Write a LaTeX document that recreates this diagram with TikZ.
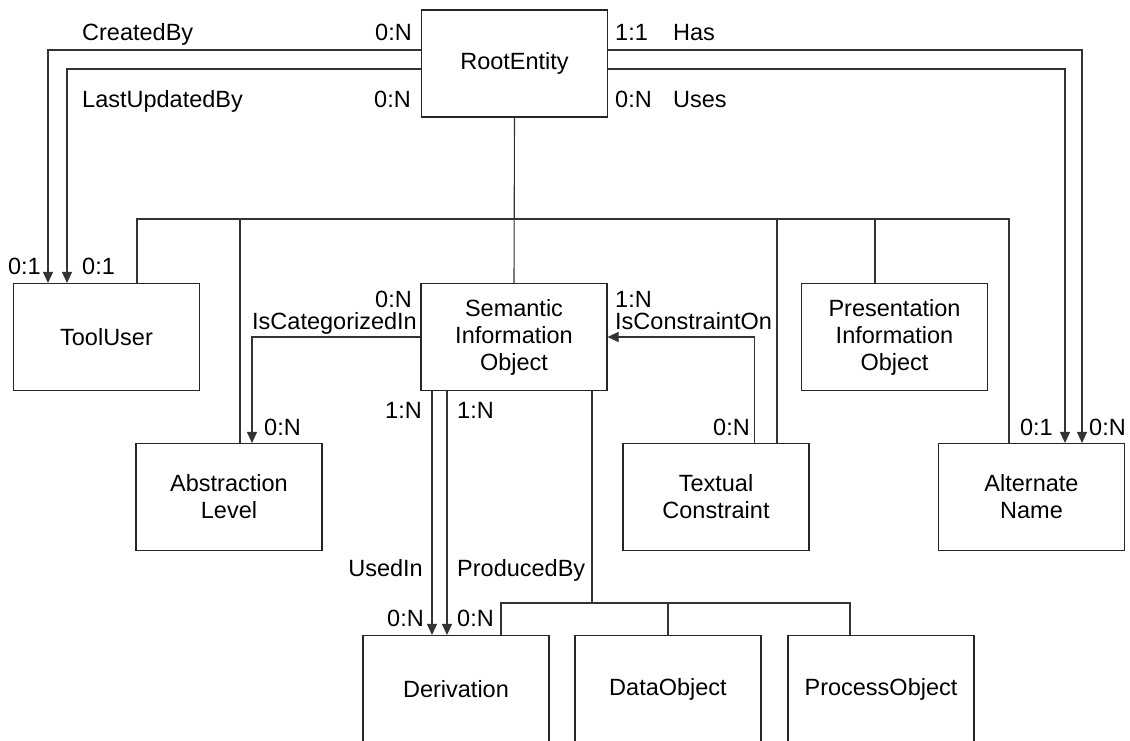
\documentclass[tikz,border=0pt]{standalone}
\usepackage{fontspec}
\setmainfont{Liberation Sans}
\usetikzlibrary{arrows.meta}
\begin{document}
\begin{tikzpicture}[x=1pt,y=-1pt,
  every node/.style={font=\fontsize{23.5}{27}\selectfont},
  entity/.style={draw=black!85, line width=1.1pt, minimum width=186pt,
                 minimum height=107pt, inner sep=0pt, align=center},
  link/.style={draw=black!80, line width=1.1pt},
  arr/.style={link, -{Triangle[length=11pt,width=10pt]}},
  lbl/.style={inner sep=0pt}]
\clip (0,0) rectangle (1130,740);
\fill[white] (0,0) rectangle (1130,740);

% entities
\node[entity] (root) at (514.5,63.5) {RootEntity};
\node[entity] (tool) at (106.5,337) {ToolUser};
\node[entity] (sio)  at (514,337)   {Semantic\\Information\\Object};
\node[entity] (pres) at (894.5,337) {Presentation\\Information\\Object};
\node[entity] (abs)  at (229,497)   {Abstraction\\Level};
\node[entity] (text) at (716,497)   {Textual\\Constraint};
\node[entity] (alt)  at (1031.5,497){Alternate\\Name};
\node[entity] (der)  at (456,689)   {Derivation};
\node[entity] (data) at (668,689)   {DataObject};
\node[entity] (proc) at (881,689)   {ProcessObject};

% bus junctions of the two generalisation trees
\coordinate (bus)  at (514.5,219);
\coordinate (bus2) at (592,603);

% relationships of RootEntity
\draw[arr] ([yshift=13.5pt]root.west) -| ([xshift=-58.5pt]tool.north);
\draw[arr] ([yshift=-5.5pt]root.west) -| ([xshift=-39.5pt]tool.north);
\draw[arr] ([yshift=13.5pt]root.east) -| ([xshift=50.5pt]alt.north);
\draw[arr] ([yshift=-5.5pt]root.east) -| ([xshift=33.5pt]alt.north);

% generalisation of RootEntity
\draw[link] (root.south) -- (sio.north);
\draw[link] ([xshift=30.5pt]tool.north) |- (bus);
\draw[link] ([xshift=11pt]abs.north) |- (bus);
\draw[link] ([xshift=-19.5pt]pres.north) |- (bus);
\draw[link] ([xshift=61pt]text.north) |- (bus);
\draw[link] ([xshift=-22.5pt]alt.north) |- (bus);
\draw[link] ([xshift=61pt]text.north |- bus) -- (pres.north |- bus);

% relationships of Semantic Information Object
\draw[arr] (sio.west) -| ([xshift=23pt]abs.north);
\draw[arr] ([xshift=38.5pt]text.north) |- (sio.east);
\draw[arr] ([xshift=-24pt]der.north |- sio.south) -- ([xshift=-24pt]der.north);
\draw[arr] ([xshift=-9pt]der.north |- sio.south) -- ([xshift=-9pt]der.north);

% generalisation of Semantic Information Object
\draw[link] (bus2 |- sio.south) -- (bus2);
\draw[link] ([xshift=45pt]der.north) |- (bus2);
\draw[link] (data.north) |- (bus2);
\draw[link] ([xshift=-31pt]proc.north) |- (bus2);

% role names and cardinalities
\node[lbl,anchor=base west] (tCreated) at (82,40)  {CreatedBy};
\node[lbl,anchor=base east] (cCreated) at (412,40) {0:N};
\node[lbl,anchor=base west] (tLast)    at (82,107) {LastUpdatedBy};
\node[lbl,anchor=base east] (cLast)    at (411,107){0:N};
\node[lbl,anchor=base west] (cHas)     at (615,40) {1:1};
\node[lbl,anchor=base west] (tHas)     at (673,40) {Has};
\node[lbl,anchor=base west] (cUses)    at (615,107){0:N};
\node[lbl,anchor=base west] (tUses)    at (673,107){Uses};
\node[lbl,anchor=base east] (cTool1)   at (41,274) {0:1};
\node[lbl,anchor=base west] (cTool2)   at (82,274) {0:1};
\node[lbl,anchor=base east] (cAlt1)    at (1053,435){0:1};
\node[lbl,anchor=base west] (cAlt2)    at (1089,435){0:N};
\node[lbl,anchor=base east] (cCat1)    at (412,307) {0:N};
\node[lbl,anchor=base east] (tCat)     at (417,329) {IsCategorizedIn};
\node[lbl,anchor=base west] (cCat2)    at (264,435) {0:N};
\node[lbl,anchor=base west] (cCon1)    at (615,307) {1:N};
\node[lbl,anchor=base west] (tCon)     at (615,329) {IsConstraintOn};
\node[lbl,anchor=base east] (cCon2)    at (750,435) {0:N};
\node[lbl,anchor=base east] (cUse1)    at (422,418) {1:N};
\node[lbl,anchor=base west] (cProd1)   at (457,418) {1:N};
\node[lbl,anchor=base east] (tUse)     at (423,576) {UsedIn};
\node[lbl,anchor=base west] (tProd)    at (457,576) {ProducedBy};
\node[lbl,anchor=base east] (cUse2)    at (424,626) {0:N};
\node[lbl,anchor=base west] (cProd2)   at (457,626) {0:N};
\end{tikzpicture}
\end{document}
